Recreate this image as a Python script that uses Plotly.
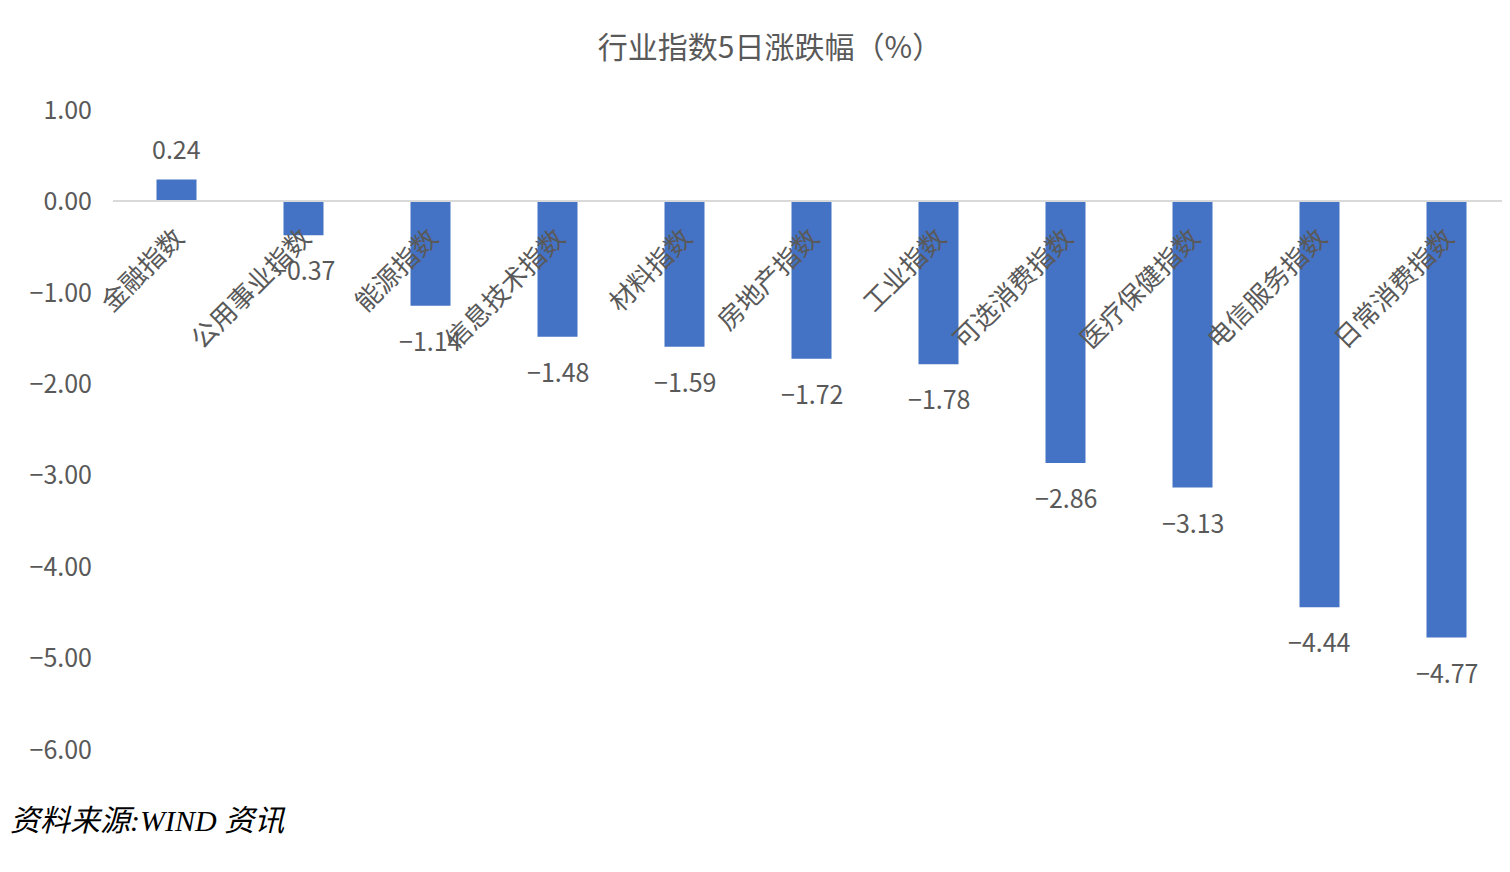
import plotly.graph_objects as go

categories = ["金融指数", "公用事业指数", "能源指数", "信息技术指数", "材料指数", "房地产指数",
              "工业指数", "可选消费指数", "医疗保健指数", "电信服务指数", "日常消费指数"]
values = [0.24, -0.37, -1.14, -1.48, -1.59, -1.72, -1.78, -2.86, -3.13, -4.44, -4.77]
y_ticks = [1, 0, -1, -2, -3, -4, -5, -6]

FONT = "Noto Sans CJK SC, Noto Sans, sans-serif"
GRAY = "#595959"

# page body has an 8px margin; figure is sized so it fills the 1510x872 window
W, H = 1502, 864
ML, MT, MB = 105, 102, 122
plot_w = W - ML
plot_h = H - MT - MB

fig = go.Figure()
fig.add_trace(go.Bar(
    x=categories, y=values,
    marker=dict(color="#4472C4", line=dict(width=0)),
    hoverinfo="x+y",
))

ymin, ymax = -6, 1
for c, v in zip(categories, values):
    fig.add_annotation(
        x=c, y=v, xref="x", yref="y",
        text=f"{v:.2f}".replace("-", "−"),
        showarrow=False,
        yanchor="middle", xanchor="center",
        yshift=31 if v >= 0 else -34,
        font=dict(family=FONT, size=25, color=GRAY),
    )

fig.add_annotation(
    x=-ML / plot_w, xref="paper", y=((H - MB) - (820 - 8)) / plot_h, yref="paper",
    text="<i>资料来源:WIND 资讯</i>", showarrow=False,
    xanchor="left", yanchor="middle",
    font=dict(family="Liberation Serif, Noto Sans CJK SC, serif", size=30, color="#000000"),
)

fig.update_layout(
    width=W, height=H,
    paper_bgcolor="white", plot_bgcolor="white",
    margin=dict(l=ML, r=0, t=MT, b=MB, pad=0),
    title=dict(text="行业指数5日涨跌幅（%）", x=(770 - 8) / W, xref="container", xanchor="center",
               y=1 - (47 - 8) / H, yref="container", yanchor="middle",
               font=dict(family=FONT, size=30, color=GRAY)),
    bargap=0.685,
    showlegend=False,
    xaxis=dict(
        anchor="free", position=(0 - ymin) / (ymax - ymin),
        showline=True, linecolor="#D9D9D9", linewidth=2,
        ticks="", tickangle=-45, showgrid=False, zeroline=False,
        ticklabelstandoff=10,
        tickfont=dict(family=FONT, size=26, color=GRAY),
    ),
    yaxis=dict(
        range=[ymin, ymax], tickvals=y_ticks,
        ticktext=[f"{t:.2f}".replace("-", "−") for t in y_ticks],
        showgrid=False, zeroline=False, showline=False, ticks="",
        ticklabelstandoff=20,
        tickfont=dict(family=FONT, size=25, color=GRAY),
    ),
)

fig.write_html("out.html")
